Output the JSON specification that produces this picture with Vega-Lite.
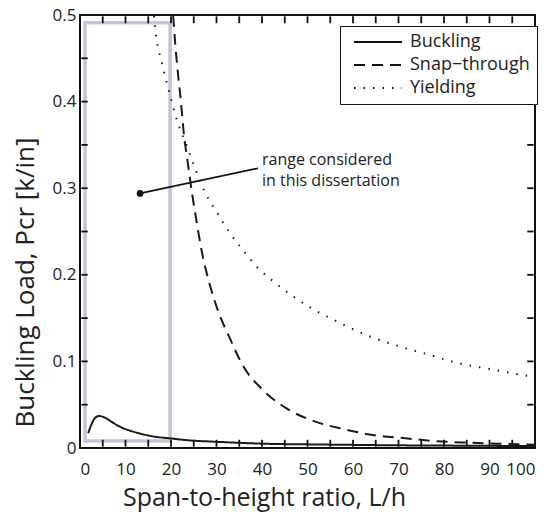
{
  "$schema": "https://vega.github.io/schema/vega-lite/v6.json",
  "width": 455,
  "height": 433,
  "autosize": "none",
  "padding": {"left": 80, "top": 15, "right": 23, "bottom": 64},
  "background": "white",
  "config": {
    "font": "Open Sans",
    "view": {"stroke": "#111", "strokeWidth": 2},
    "axis": {"domain": false, "ticks": false, "grid": false, "labelColor": "#222", "titleColor": "#222", "titleFontWeight": "normal"}
  },
  "datasets": {
    "curves": [
      {"s": "Buckling", "x": 1.8, "y": 0.017},
      {"s": "Buckling", "x": 2.5, "y": 0.027},
      {"s": "Buckling", "x": 3.2, "y": 0.034},
      {"s": "Buckling", "x": 4.2, "y": 0.037},
      {"s": "Buckling", "x": 5.5, "y": 0.035},
      {"s": "Buckling", "x": 7.3, "y": 0.029},
      {"s": "Buckling", "x": 9, "y": 0.024},
      {"s": "Buckling", "x": 11, "y": 0.02},
      {"s": "Buckling", "x": 13, "y": 0.017},
      {"s": "Buckling", "x": 15.4, "y": 0.014},
      {"s": "Buckling", "x": 20, "y": 0.011},
      {"s": "Buckling", "x": 24.8, "y": 0.0085},
      {"s": "Buckling", "x": 28.6, "y": 0.0075},
      {"s": "Buckling", "x": 35, "y": 0.006},
      {"s": "Buckling", "x": 40, "y": 0.005},
      {"s": "Buckling", "x": 50, "y": 0.0042},
      {"s": "Buckling", "x": 60, "y": 0.0036},
      {"s": "Buckling", "x": 70, "y": 0.0031},
      {"s": "Buckling", "x": 80, "y": 0.0028},
      {"s": "Buckling", "x": 90, "y": 0.0025},
      {"s": "Buckling", "x": 100, "y": 0.0022},
      {"s": "Snap−through", "x": 20.2, "y": 0.52},
      {"s": "Snap−through", "x": 20.9, "y": 0.469},
      {"s": "Snap−through", "x": 21.5, "y": 0.434},
      {"s": "Snap−through", "x": 22.2, "y": 0.399},
      {"s": "Snap−through", "x": 22.8, "y": 0.364},
      {"s": "Snap−through", "x": 23.7, "y": 0.329},
      {"s": "Snap−through", "x": 24.6, "y": 0.295},
      {"s": "Snap−through", "x": 25.7, "y": 0.259},
      {"s": "Snap−through", "x": 26.8, "y": 0.226},
      {"s": "Snap−through", "x": 28.4, "y": 0.191},
      {"s": "Snap−through", "x": 30.3, "y": 0.159},
      {"s": "Snap−through", "x": 33, "y": 0.126},
      {"s": "Snap−through", "x": 35.8, "y": 0.095},
      {"s": "Snap−through", "x": 40, "y": 0.068},
      {"s": "Snap−through", "x": 45.3, "y": 0.046},
      {"s": "Snap−through", "x": 51.4, "y": 0.031},
      {"s": "Snap−through", "x": 57.8, "y": 0.022},
      {"s": "Snap−through", "x": 64.4, "y": 0.015},
      {"s": "Snap−through", "x": 71, "y": 0.0115},
      {"s": "Snap−through", "x": 78.5, "y": 0.0078},
      {"s": "Snap−through", "x": 85, "y": 0.0062},
      {"s": "Snap−through", "x": 91.6, "y": 0.005},
      {"s": "Snap−through", "x": 100, "y": 0.0038},
      {"s": "Yielding", "x": 16.1, "y": 0.51},
      {"s": "Yielding", "x": 16.5, "y": 0.485},
      {"s": "Yielding", "x": 18, "y": 0.445},
      {"s": "Yielding", "x": 19.8, "y": 0.407},
      {"s": "Yielding", "x": 21.1, "y": 0.382},
      {"s": "Yielding", "x": 23.7, "y": 0.346},
      {"s": "Yielding", "x": 25.5, "y": 0.32},
      {"s": "Yielding", "x": 27.5, "y": 0.295},
      {"s": "Yielding", "x": 30.1, "y": 0.272},
      {"s": "Yielding", "x": 32.7, "y": 0.25},
      {"s": "Yielding", "x": 35.6, "y": 0.23},
      {"s": "Yielding", "x": 38.9, "y": 0.209},
      {"s": "Yielding", "x": 42.6, "y": 0.192},
      {"s": "Yielding", "x": 46.6, "y": 0.176},
      {"s": "Yielding", "x": 51, "y": 0.161},
      {"s": "Yielding", "x": 55.4, "y": 0.149},
      {"s": "Yielding", "x": 62.2, "y": 0.132},
      {"s": "Yielding", "x": 69.2, "y": 0.119},
      {"s": "Yielding", "x": 76.5, "y": 0.108},
      {"s": "Yielding", "x": 83.1, "y": 0.098},
      {"s": "Yielding", "x": 90.3, "y": 0.091},
      {"s": "Yielding", "x": 97.6, "y": 0.084},
      {"s": "Yielding", "x": 100, "y": 0.082}
    ],
    "box": [{"x": 1.1, "x2": 19.8, "y": 0.008, "y2": 0.491}],
    "pointer": [{"x": 13.2, "y": 0.294, "x2": 39.1, "y2": 0.323}],
    "notes": [
      {"x": 40, "y": 0.332, "t": "range considered"},
      {"x": 40, "y": 0.308, "t": "in this dissertation"}
    ],
    "xticks": [{"v":5},{"v":10},{"v":15},{"v":20},{"v":25},{"v":30},{"v":35},{"v":40},{"v":45},{"v":50},{"v":55},{"v":60},{"v":65},{"v":70},{"v":75},{"v":80},{"v":85},{"v":90},{"v":95}],
    "yticks": [{"v":0.05},{"v":0.1},{"v":0.15},{"v":0.2},{"v":0.25},{"v":0.3},{"v":0.35},{"v":0.4},{"v":0.45}]
  },
  "layer": [
    {
      "data": {"name": "box"},
      "mark": {"type": "rect", "fill": null, "filled": false, "stroke": "#bcc6dc", "strokeWidth": 3.5},
      "encoding": {
        "x": {"field": "x", "type": "quantitative", "scale": {"domain": [0, 100], "nice": false}},
        "x2": {"field": "x2"},
        "y": {"field": "y", "type": "quantitative", "scale": {"domain": [0, 0.5], "nice": false}},
        "y2": {"field": "y2"}
      }
    },
    {
      "data": {"name": "xticks"},
      "mark": {"type": "rule", "color": "#111", "strokeWidth": 1.8},
      "encoding": {
        "x": {"field": "v", "type": "quantitative"},
        "y": {"datum": 0.0015, "type": "quantitative"},
        "y2": {"datum": 0.0095}
      }
    },
    {
      "data": {"name": "xticks"},
      "mark": {"type": "rule", "color": "#111", "strokeWidth": 1.8},
      "encoding": {
        "x": {"field": "v", "type": "quantitative"},
        "y": {"datum": 0.4905, "type": "quantitative"},
        "y2": {"datum": 0.4985}
      }
    },
    {
      "data": {"name": "yticks"},
      "mark": {"type": "rule", "color": "#111", "strokeWidth": 1.8},
      "encoding": {
        "y": {"field": "v", "type": "quantitative"},
        "x": {"datum": 0.3, "type": "quantitative"},
        "x2": {"datum": 1.7}
      }
    },
    {
      "data": {"name": "yticks"},
      "mark": {"type": "rule", "color": "#111", "strokeWidth": 1.8},
      "encoding": {
        "y": {"field": "v", "type": "quantitative"},
        "x": {"datum": 98.3, "type": "quantitative"},
        "x2": {"datum": 99.7}
      }
    },
    {
      "data": {"name": "curves"},
      "mark": {"type": "line", "color": "#1a1a1a", "strokeWidth": 2, "clip": true, "interpolate": "monotone"},
      "encoding": {
        "x": {"field": "x", "type": "quantitative"},
        "y": {"field": "y", "type": "quantitative"},
        "order": {"field": "x", "type": "quantitative"},
        "strokeDash": {
          "field": "s", "type": "nominal",
          "scale": {"domain": ["Buckling", "Snap−through", "Yielding"], "range": [[1, 0], [11, 7], [1.5, 8]]},
          "legend": {
            "title": null, "orient": "none", "legendX": 260, "legendY": 11,
            "direction": "vertical",
            "strokeColor": "#111", "fillColor": "white", "padding": 7,
            "symbolType": "M-0.33,0L7.67,0", "symbolSize": 144, "symbolStrokeWidth": 2, "symbolStrokeColor": "#111",
            "labelFontSize": 18, "labelColor": "#222", "labelOffset": 45, "rowPadding": 5
          }
        }
      }
    },
    {
      "data": {"name": "pointer"},
      "mark": {"type": "rule", "color": "#111", "strokeWidth": 1.8},
      "encoding": {
        "x": {"field": "x", "type": "quantitative"},
        "y": {"field": "y", "type": "quantitative"},
        "x2": {"field": "x2"},
        "y2": {"field": "y2"}
      }
    },
    {
      "data": {"name": "pointer"},
      "mark": {"type": "point", "filled": true, "color": "#111", "size": 45, "opacity": 1},
      "encoding": {
        "x": {"field": "x", "type": "quantitative"},
        "y": {"field": "y", "type": "quantitative"}
      }
    },
    {
      "data": {"name": "notes"},
      "mark": {"type": "text", "align": "left", "baseline": "middle", "fontSize": 16, "color": "#222"},
      "encoding": {
        "x": {"field": "x", "type": "quantitative"},
        "y": {"field": "y", "type": "quantitative"},
        "text": {"field": "t"}
      }
    }
  ],
  "encoding": {
    "x": {"axis": {
      "values": [0,10,20,30,40,50,60,70,80,90,100],
      "format": "d", "labelPadding": 13, "labelFontSize": 17,
      "title": "Span-to-height ratio, L/h", "titleFontSize": 25,
      "titleX": 184, "titleY": 57, "titleBaseline": "alphabetic", "titleAlign": "center", "titleAnchor": null
    }},
    "y": {"axis": {
      "values": [0,0.1,0.2,0.3,0.4,0.5],
      "labelExpr": "format(datum.value, '.1~f')",
      "labelPadding": 4, "labelFontSize": 17,
      "title": "Buckling Load, Pcr [k/in]", "titleFontSize": 26,
      "titleX": -47, "titleY": 267, "titleBaseline": "alphabetic", "titleAlign": "center", "titleAngle": -90, "titleAnchor": null
    }}
  }
}
